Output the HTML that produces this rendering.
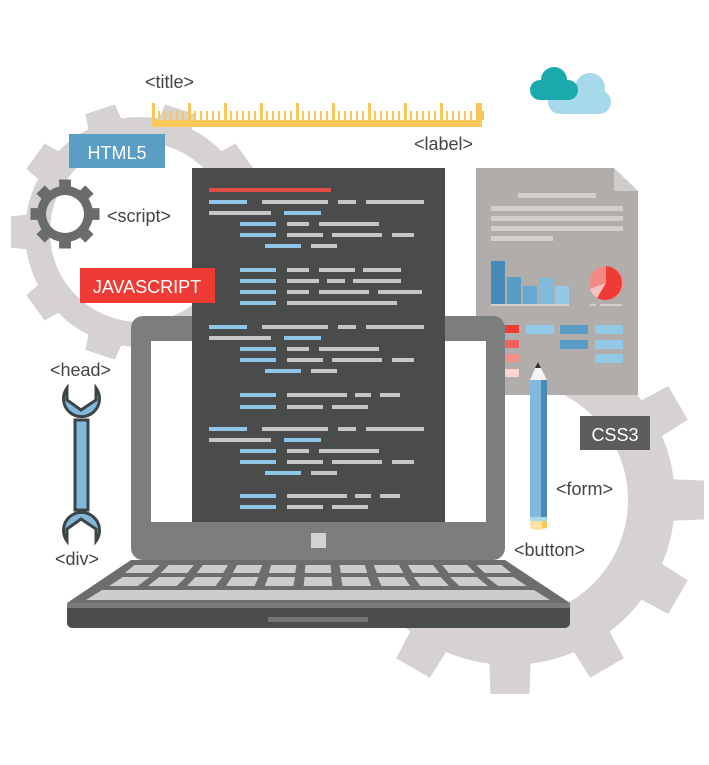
<!DOCTYPE html>
<html><head><meta charset="utf-8"><style>
html,body{margin:0;padding:0;background:#fff;width:709px;height:765px;overflow:hidden}
svg{display:block}
text{font-family:"Liberation Sans",sans-serif}
</style></head><body>
<svg id="s" width="709" height="765" viewBox="0 0 709 765" xmlns="http://www.w3.org/2000/svg">
<g id="gears"></g>
<!-- ruler -->
<rect x="152" y="120" width="330" height="7" fill="#f8c858"/>
<g id="ruler" fill="#f8c858"></g>
<text x="145" y="88" font-size="18" fill="#444">&lt;title&gt;</text>
<text x="414" y="150" font-size="18" fill="#444">&lt;label&gt;</text>
<!-- cloud -->
<g fill="#a6d9ea"><circle cx="590" cy="88" r="15"/><rect x="548" y="90" width="63" height="24" rx="12"/></g>
<g fill="#1aa9ad"><circle cx="554" cy="80" r="13"/><rect x="530" y="80" width="48" height="20" rx="10"/></g>
<!-- HTML5 -->
<rect x="69" y="134" width="96" height="34" fill="#5a9ec6"/>
<text x="117" y="159" font-size="18" fill="#fff" text-anchor="middle">HTML5</text>
<g id="smallgear"></g>
<text x="107" y="222" font-size="18" fill="#444">&lt;script&gt;</text>
<!-- document -->
<path d="M476 168 H614 L638 191 V395 H476 Z" fill="#b0adab"/>
<path d="M614 168 L638 191 H614 Z" fill="#cfcdcc"/>
<g fill="#d2d0cf"><rect x="518" y="193" width="78" height="5"/><rect x="491" y="206" width="132" height="5"/><rect x="491" y="216" width="132" height="5"/><rect x="491" y="226" width="132" height="5"/><rect x="491" y="236" width="62" height="5"/></g>
<rect x="491" y="261" width="14" height="43" fill="#4a8ab8"/><rect x="507" y="277" width="14" height="27" fill="#5a9cc6"/><rect x="523" y="286" width="14" height="18" fill="#66a8d0"/><rect x="539" y="278" width="14" height="26" fill="#80bade"/><rect x="555" y="286" width="14" height="18" fill="#94c8e8"/>
<rect x="491" y="304" width="78" height="2" fill="#d2d0cf"/>
<circle cx="606" cy="283" r="17" fill="#f48a86"/><path d="M606 283 L606 266 A17 17 0 1 1 597 298 Z" fill="#ee3b36"/><path d="M606 283 L590 289 A17 17 0 0 0 597 298 Z" fill="#f8c0bf"/>
<rect x="590" y="304" width="6" height="2" fill="#d2d0cf"/><rect x="600" y="304" width="22" height="2" fill="#d2d0cf"/>
<rect x="505" y="325" width="14" height="8" fill="#ee3b36"/><rect x="505" y="340" width="14" height="8" fill="#f2625c"/><rect x="505" y="354" width="14" height="8" fill="#f48c88"/><rect x="505" y="369" width="14" height="8" fill="#fad4d4"/>
<rect x="526" y="325" width="28" height="9" fill="#94c8e8"/><rect x="560" y="325" width="28" height="9" fill="#5a9cc6"/><rect x="560" y="340" width="28" height="9" fill="#5a9cc6"/>
<rect x="595" y="325" width="28" height="9" fill="#94c8e8"/><rect x="595" y="340" width="28" height="9" fill="#94c8e8"/><rect x="595" y="354" width="28" height="9" fill="#94c8e8"/>
<!-- laptop -->
<rect x="131" y="316" width="374" height="244" rx="12" fill="#7c7d7d"/>
<rect x="151" y="341" width="335" height="181" fill="#fff"/>
<rect x="192" y="168" width="253" height="354" fill="#4a4b4b"/>
<g id="code"></g>
<!-- JAVASCRIPT -->
<rect x="80" y="268" width="135" height="35" fill="#ef3b35"/>
<text x="147" y="293" font-size="18" fill="#fff" text-anchor="middle">JAVASCRIPT</text>
<rect x="311" y="533" width="15" height="15" fill="#d2d2d2"/>
<path d="M131 560 H505 L570 603 H67 Z" fill="#6c6d6d"/>
<g id="keys" fill="#cdcdcd"></g>
<rect x="67" y="603" width="503" height="25" rx="5" fill="#4b4c4c"/>
<rect x="67" y="603" width="503" height="5" fill="#7a7b7b"/>
<rect x="268" y="617" width="100" height="5" fill="#747575"/>
<!-- CSS3 -->
<rect x="580" y="416" width="70" height="34" fill="#5d5d5d"/>
<text x="615" y="441" font-size="18" fill="#fff" text-anchor="middle">CSS3</text>
<text x="556" y="495" font-size="18" fill="#444">&lt;form&gt;</text>
<text x="514" y="556" font-size="18" fill="#444">&lt;button&gt;</text>
<text x="50" y="376" font-size="18" fill="#444">&lt;head&gt;</text>
<text x="55" y="565" font-size="18" fill="#444">&lt;div&gt;</text>
<!-- pencil -->
<rect x="530" y="380" width="17" height="138" fill="#82b8dc"/><rect x="541" y="380" width="6" height="138" fill="#4a8ab8"/>
<rect x="530" y="517" width="17" height="4" fill="#a6d9ea"/>
<path d="M530 521 H547 V528 Q538 532 530 528 Z" fill="#fbe2a8"/><rect x="542" y="521" width="5" height="7" fill="#f8c858"/>
<path d="M530 380 L538 362 L547 380 Z" fill="#f4f4f4"/><path d="M535 368 L538 362 L541 368 Z" fill="#333"/>
<!-- wrench -->
<g stroke="#3d4447" stroke-width="3" fill="#82b8dc">
<path d="M67 388 A18 18 0 1 0 96 388 L96 400 L81 410 L67 400 Z"/>
<path d="M67 541 A18 18 0 1 1 96 541 L96 529 L81 519 L67 529 Z"/>
<rect x="75" y="420" width="13" height="90"/>
</g>
</svg>
<script>
const NS="http://www.w3.org/2000/svg";
function gear(cx,cy,rIn,rOut,rTooth,n,tw,fill){
 let d="";
 for(let i=0;i<n;i++){
  let a=i*2*Math.PI/n, h=tw/2;
  let pts=[[a-h*1.25,rOut],[a-h,rTooth],[a+h,rTooth],[a+h*1.25,rOut]];
  pts.forEach((p,j)=>{let x=cx+p[1]*Math.cos(p[0]),y=cy+p[1]*Math.sin(p[0]);d+=(i==0&&j==0?"M":"L")+x.toFixed(1)+" "+y.toFixed(1)+" ";});
  let a3=(i+1)*2*Math.PI/n-h*1.25;
  d+="A"+rOut+" "+rOut+" 0 0 1 "+(cx+rOut*Math.cos(a3)).toFixed(1)+" "+(cy+rOut*Math.sin(a3)).toFixed(1)+" ";
 }
 d+="Z M"+(cx+rIn)+" "+cy+" A"+rIn+" "+rIn+" 0 1 0 "+(cx-rIn)+" "+cy+" A"+rIn+" "+rIn+" 0 1 0 "+(cx+rIn)+" "+cy+" Z";
 let p=document.createElementNS(NS,"path");p.setAttribute("d",d);p.setAttribute("fill",fill);p.setAttribute("fill-rule","evenodd");return p;
}
const g=document.getElementById("gears");
g.appendChild(gear(140,232,90,115,130,10,0.24,"#d6d2d1"));
g.appendChild(gear(510,500,118,165,195,12,0.2,"#d6d2d1"));
document.getElementById("smallgear").appendChild(gear(65,214,19,28,35,8,0.34,"#6a6b6b"));
const r=document.getElementById("ruler");
for(let i=0;i<=55;i++){let x=152+i*6;let big=i%6==0;let e=document.createElementNS(NS,"rect");e.setAttribute("x",x);e.setAttribute("y",big?103:111);e.setAttribute("width",big?3:2);e.setAttribute("height",big?17:9);r.appendChild(e);}
let e0=document.createElementNS(NS,"rect");e0.setAttribute("x",479);e0.setAttribute("y",103);e0.setAttribute("width",3);e0.setAttribute("height",17);r.appendChild(e0);
const B="#8fc6e8",G="#c6c6c6",c=document.getElementById("code");
function seg(x,y,w,col){let e=document.createElementNS(NS,"rect");e.setAttribute("x",x);e.setAttribute("y",y);e.setAttribute("width",w);e.setAttribute("height",4);e.setAttribute("fill",col);c.appendChild(e);}
seg(209,188,122,"#e04e47");
function block(y0){
 seg(209,y0,38,B);seg(262,y0,66,G);seg(338,y0,18,G);seg(366,y0,58,G);
 seg(209,y0+11,62,G);seg(284,y0+11,37,B);
 seg(240,y0+22,36,B);seg(287,y0+22,22,G);seg(319,y0+22,60,G);
 seg(240,y0+33,36,B);seg(287,y0+33,36,G);seg(332,y0+33,50,G);seg(392,y0+33,22,G);
 seg(265,y0+44,36,B);seg(311,y0+44,26,G);
}
function block2(y0){
 seg(240,y0,36,B);seg(287,y0,22,G);seg(319,y0,36,G);seg(363,y0,38,G);
 seg(240,y0+11,36,B);seg(287,y0+11,32,G);seg(327,y0+11,18,G);seg(353,y0+11,48,G);
 seg(240,y0+22,36,B);seg(287,y0+22,22,G);seg(319,y0+22,50,G);seg(378,y0+22,44,G);
 seg(240,y0+33,36,B);seg(287,y0+33,110,G);
}
block(200);block2(268);block(325);
seg(240,393,36,B);seg(287,393,60,G);seg(355,393,16,G);seg(380,393,20,G);
seg(240,405,36,B);seg(287,405,36,G);seg(332,405,36,G);
block(427);
seg(240,494,36,B);seg(287,494,60,G);seg(355,494,16,G);seg(380,494,20,G);
seg(240,505,36,B);seg(287,505,36,G);seg(332,505,36,G);
const k=document.getElementById("keys");
function key(pts){let e=document.createElementNS(NS,"polygon");e.setAttribute("points",pts);k.appendChild(e);}
function row(y1,y2,xl1,xr1,xl2,xr2,n){for(let i=0;i<n;i++){let f=i/n,f2=(i+1)/n,gap=0.012;
 let a=xl1+(xr1-xl1)*(f+gap),b=xl1+(xr1-xl1)*(f2-gap),c2=xl2+(xr2-xl2)*(f2-gap),d=xl2+(xr2-xl2)*(f+gap);
 key(a+","+y1+" "+b+","+y1+" "+c2+","+y2+" "+d+","+y2);}}
row(565,573,130,506,120,516,11);
row(577,586,118,518,104,532,11);
key("102,590 534,590 550,600 86,600");
</script>
</body></html>
